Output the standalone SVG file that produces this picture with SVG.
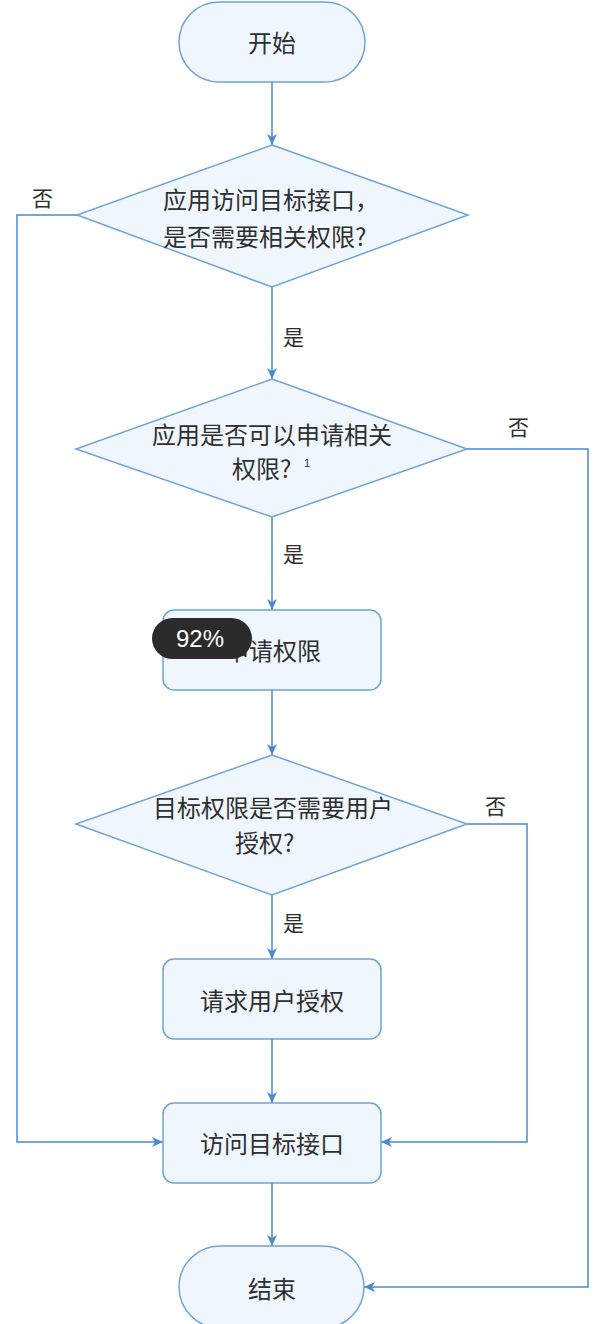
<svg xmlns="http://www.w3.org/2000/svg" width="596" height="1324" viewBox="0 0 596 1324">
  <style>
    .shape { fill: #eff6fd; stroke: #6fa3dc; stroke-width: 1.5; }
    .link { fill: none; stroke: #4a89d3; stroke-width: 1.5; }
    .lbl { font-family: "Noto Sans CJK SC", "Noto Sans", sans-serif; font-size: 24px; fill: #2f2f2f; }
    .yn { font-family: "Noto Sans CJK SC", "Noto Sans", sans-serif; font-size: 21px; fill: #2f2f2f; }
    .sup { font-family: "Liberation Sans", sans-serif; font-size: 11px; fill: #2f2f2f; }
  </style>
  <defs>
    <marker id="arrow" markerUnits="userSpaceOnUse" markerWidth="12" markerHeight="12" viewBox="0 0 12 12" refX="11" refY="6" orient="auto">
      <path d="M0,1 L11,6 L0,11 L3,6 Z" fill="#4a89d3"/>
    </marker>
  </defs>
  <rect width="596" height="1324" fill="#ffffff"/>

  <!-- connectors -->
  <g id="connectors">
    <path class="link" d="M272,82 V145" marker-end="url(#arrow)"/>
    <path class="link" d="M272,287 V379" marker-end="url(#arrow)"/>
    <path class="link" d="M272,517 V610" marker-end="url(#arrow)"/>
    <path class="link" d="M272,690 V755" marker-end="url(#arrow)"/>
    <path class="link" d="M272,895 V959" marker-end="url(#arrow)"/>
    <path class="link" d="M272,1039 V1103" marker-end="url(#arrow)"/>
    <path class="link" d="M272,1183 V1246" marker-end="url(#arrow)"/>
    <path class="link" d="M77,215 H17 V1142 H163" marker-end="url(#arrow)"/>
    <path class="link" d="M467,449 H588 V1287 H364" marker-end="url(#arrow)"/>
    <path class="link" d="M467,824 H527 V1142 H381" marker-end="url(#arrow)"/>
    <text class="yn" x="32" y="206">否</text>
    <text class="yn" x="283" y="345">是</text>
    <text class="yn" x="508" y="435">否</text>
    <text class="yn" x="283" y="562">是</text>
    <text class="yn" x="485" y="814">否</text>
    <text class="yn" x="283" y="931">是</text>
  </g>

  <g id="start">
    <rect class="shape" x="179" y="2" width="186" height="80" rx="40"/>
    <text class="lbl" x="248" y="52">开始</text>
  </g>

  <g id="need-permission">
    <polygon class="shape" points="272,145 468,215 272,287 77,215"/>
    <text class="lbl" x="163" y="209">应用访问目标接口，</text>
    <text class="lbl" x="163" y="246">是否需要相关权限?</text>
  </g>

  <g id="can-request">
    <polygon class="shape" points="272,379 467,449 272,517 76,449"/>
    <text class="lbl" x="152" y="444">应用是否可以申请相关</text>
    <text class="lbl" x="232" y="478">权限?</text>
    <text class="sup" x="304" y="467">1</text>
  </g>

  <g id="request-permission">
    <rect class="shape" x="163" y="610" width="218" height="80" rx="11"/>
    <text class="lbl" x="225" y="660">申请权限</text>
  </g>

  <g id="need-user-grant">
    <polygon class="shape" points="272,755 467,824 272,895 76,824"/>
    <text class="lbl" x="153" y="817">目标权限是否需要用户</text>
    <text class="lbl" x="235" y="852">授权?</text>
  </g>

  <g id="request-user-grant">
    <rect class="shape" x="163" y="959" width="218" height="80" rx="11"/>
    <text class="lbl" x="200" y="1010">请求用户授权</text>
  </g>

  <g id="access-api">
    <rect class="shape" x="163" y="1103" width="218" height="80" rx="11"/>
    <text class="lbl" x="200" y="1153">访问目标接口</text>
  </g>

  <g id="end">
    <rect class="shape" x="179" y="1246" width="185" height="82" rx="41"/>
    <text class="lbl" x="248" y="1298">结束</text>
  </g>

  <!-- zoom level badge -->
  <g id="zoom-badge">
    <rect x="152" y="618" width="100" height="41" rx="20.5" fill="#2b2b2b"/>
    <text x="176" y="647" font-family="Liberation Sans, sans-serif" font-size="24" fill="#ffffff">92%</text>
  </g>
</svg>
